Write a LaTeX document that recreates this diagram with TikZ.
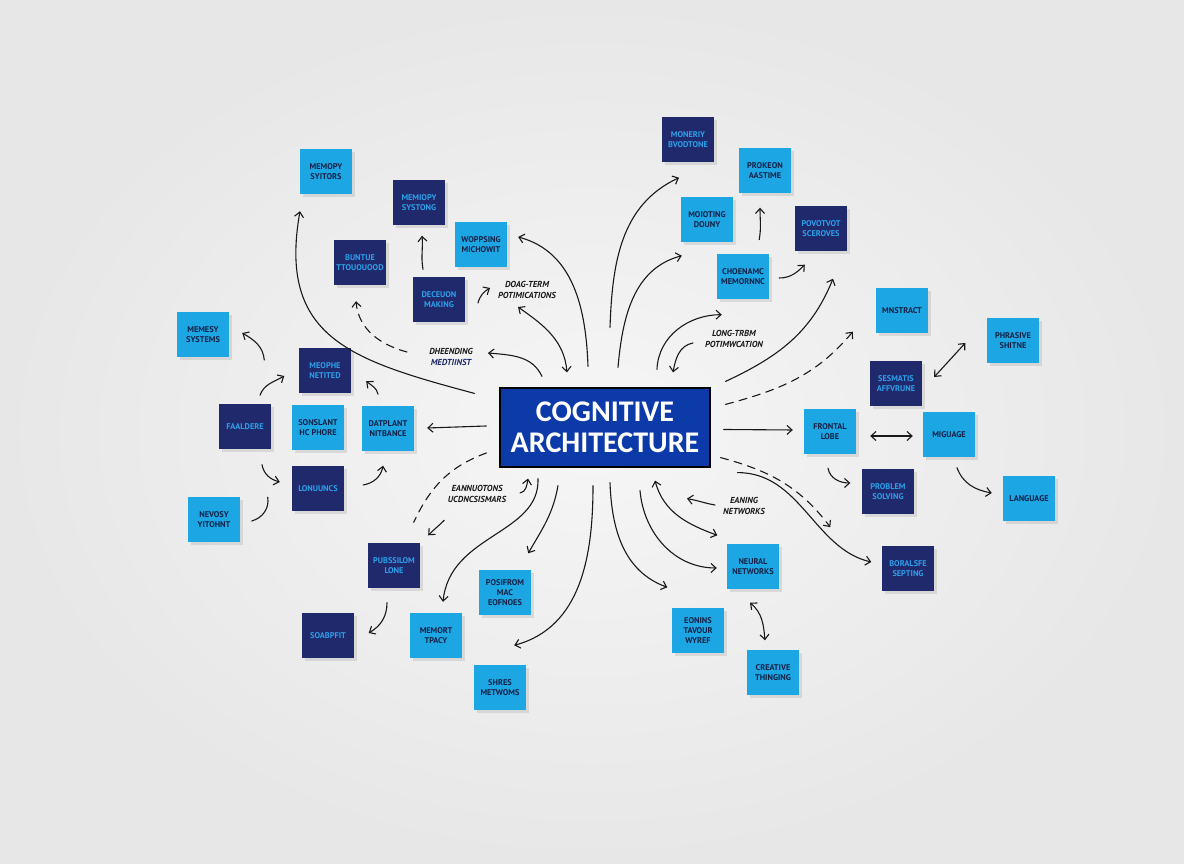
\documentclass[tikz,border=0pt]{standalone}
\usepackage{fontspec}
\setmainfont{Carlito}
\newfontfamily\handfont{PT Sans}
\usetikzlibrary{arrows.meta, positioning, shadows}
\definecolor{wallin}{RGB}{246,246,246}
\definecolor{wallout}{RGB}{231,231,232}
\definecolor{notecyan}{RGB}{28,166,228}
\definecolor{notenavy}{RGB}{31,41,107}
\definecolor{inkdark}{RGB}{20,33,70}
\definecolor{inkcyan}{RGB}{45,160,235}
\definecolor{cogblue}{RGB}{12,58,168}
\definecolor{pen}{RGB}{25,25,25}

\begin{document}
\begin{tikzpicture}[x=1pt, y=1pt,
    >={Straight Barb[length=5pt,width=9pt]},
    note/.style={minimum width=52pt, minimum height=45pt, inner sep=1pt, align=center, font=\handfont\bfseries\fontsize{8.3}{10}\selectfont, drop shadow={shadow xshift=3pt, shadow yshift=-3pt, opacity=0.2}},
    lightnote/.style={note, fill=notecyan, text=inkdark},
    darknote/.style={note, fill=notenavy, text=inkcyan},
    scrawl/.style={align=center, font=\handfont\bfseries\itshape\fontsize{8.7}{10.5}\selectfont, text=pen, inner sep=0pt},
    link/.style={draw=pen, line width=1.1pt, line cap=round},
    dashy/.style={dash pattern=on 8pt off 6pt},
]
    \shade[inner color=wallin, outer color=wallout] (0,0) rectangle (1184,864);
    \useasboundingbox (0,0) rectangle (1184,864);

    \node[draw=black, line width=1.2pt, fill=cogblue, text=white, minimum width=210pt, minimum height=79pt, inner sep=0pt, align=center, font=\bfseries\fontsize{30}{31}\selectfont] (cog) at (605,436.5) {COGNITIVE\\ARCHITECTURE};

    \node[lightnote] (memsyt) at (326,692) {MEMOPY\\SYITORS};
    \node[darknote] (memsys) at (419,661) {MEMIOPY\\SYSTONG};
    \node[lightnote] (worp) at (481,619) {WOPPSING\\MICHOWIT};
    \node[darknote] (buntue) at (360,601) {BUNTUE\\TTOUOUOOD};
    \node[darknote] (decision) at (439,564) {DECEUON\\MAKING};
    \node[darknote] (moneriy) at (688,724) {MONERIY\\BVODTONE};
    \node[lightnote] (prokeon) at (765,693) {PROKEON\\AASTIME};
    \node[lightnote] (moioting) at (707,644) {MOIOTING\\DOUNY};
    \node[darknote] (povot) at (821,635) {POVOTVOT\\SCEROVES};
    \node[lightnote] (choenamc) at (743,587) {CHOENAMC\\MEMORNNC};
    \node[lightnote] (mnstract) at (902,553) {MNSTRACT};
    \node[lightnote] (phrasive) at (1013,523) {PHRASIVE\\SHITNE};
    \node[darknote] (semantis) at (896,480) {SESMATIS\\AFFVRUNE};
    \node[lightnote] (frontal) at (830,432) {FRONTAL\\LOBE};
    \node[lightnote] (miguage) at (949,429) {MIGUAGE};
    \node[darknote] (problem) at (888,372) {PROBLEM\\SOLVING};
    \node[lightnote] (language) at (1029,365) {LANGUAGE};
    \node[darknote] (boralsfe) at (908,295) {BORALSFE\\SEPTING};
    \node[lightnote] (neural) at (753,297) {NEURAL\\NETWORKS};
    \node[lightnote] (eonins) at (698,233) {EONINS\\TAVOUR\\WYREF};
    \node[lightnote] (creative) at (773,191) {CREATIVE\\THINGING};
    \node[lightnote] (posifrom) at (505,271) {POSIFROM\\MAC\\EOFNOES};
    \node[lightnote] (shres) at (500,176) {SHRES\\METWOMS};
    \node[lightnote] (memort) at (436,228) {MEMORT\\TPACY};
    \node[darknote] (pubssilom) at (394,298) {PUBSSILOM\\LONE};
    \node[darknote] (soabpfit) at (328,228) {SOABPFIT};
    \node[lightnote] (memsy) at (203,529) {MEMESY\\SYSTEMS};
    \node[darknote] (meophe) at (325,493) {MEOPHE\\NETITED};
    \node[darknote] (faaldere) at (245,437) {FAALDERE};
    \node[lightnote] (sonslant) at (318,436) {SONSLANT\\HC PHORE};
    \node[lightnote] (datplant) at (388,435) {DATPLANT\\NITBANCE};
    \node[darknote] (lonuuncs) at (318,375) {LONUUNCS};
    \node[lightnote] (nevosy) at (214,344) {NEVOSY\\YITOHNT};

    \node[scrawl] (lbldoag) at (527,574) {DOAG-TERM\\POTIMICATIONS};
    \node[scrawl] (lbldheek) at (451,507) {DHEENDING\\\textcolor{notenavy}{MEDTIINST}};
    \node[scrawl] (lbllong) at (734,525) {LONG-TRBM\\POTIMWCATION};
    \node[scrawl] (lblean) at (477,370) {EANNUOTONS\\UCDNCSISMARS};
    \node[scrawl] (lbleaning) at (744,358) {EANING\\NETWORKS};

    % upper left
    \draw[link,->] ([xshift=-25pt,yshift=-6pt]cog.north west) to[out=165,in=-100,looseness=1.3] ([xshift=-26pt,yshift=-16.5pt]memsyt.south);
    \draw[link,dashy,->] ([xshift=-44pt,yshift=5pt]lbldheek.center) to[out=165,in=-85] ([xshift=-4pt,yshift=-15.5pt]buntue.south);
    \draw[link,->] ([xshift=-63pt,yshift=11pt]cog.north) to[out=115,in=-5] ([xshift=37pt,yshift=4pt]lbldheek.center);
    \draw[link,<->] ([xshift=-38pt,yshift=15pt]cog.north) to[out=95,in=-35] ([xshift=-9pt,yshift=-17pt]lbldoag.center);
    \draw[link,->] ([xshift=-49pt,yshift=-13pt]lbldoag.center) to[out=75,in=-150] ([xshift=-37pt,yshift=2pt]lbldoag.center);
    \draw[link,->] ([xshift=-17pt,yshift=21pt]cog.north) to[out=92,in=-15] ([xshift=11pt,yshift=8pt]worp.east);
    \draw[link,->] ([xshift=-16pt,yshift=8pt]decision.north) to[out=100,in=-85] ([xshift=3pt,yshift=-10pt]memsys.south);

    % upper right
    \draw[link,->] ([xshift=5pt,yshift=60pt]cog.north) to[out=88,in=-155] ([xshift=-9pt,yshift=-15pt]moneriy.south);
    \draw[link,->] ([xshift=13pt,yshift=20pt]cog.north) to[out=85,in=-165] ([xshift=1pt,yshift=-13pt]moioting.south west);
    \draw[link,->] ([xshift=52pt,yshift=18pt]cog.north) to[out=88,in=180] ([xshift=5pt,yshift=-15pt]choenamc.south west);
    \draw[link,->] ([xshift=-41pt,yshift=-4pt]lbllong.center) to[out=190,in=80] ([xshift=68pt,yshift=15pt]cog.north);
    \draw[link,->] ([xshift=26pt,yshift=3pt]moioting.south east) to[out=80,in=-90] ([xshift=-5pt,yshift=-14pt]prokeon.south);
    \draw[link,->] ([xshift=10pt,yshift=-1pt]choenamc.east) to[out=0,in=-135] ([xshift=10pt,yshift=-13pt]povot.south west);
    \draw[link,->] ([xshift=15pt,yshift=6pt]cog.north east) to[out=25,in=-112] ([xshift=12pt,yshift=-27pt]povot.south);
    \draw[link,dashy,->] ([xshift=15pt,yshift=-17pt]cog.north east) to[out=15,in=-130] ([xshift=-23pt,yshift=2pt]mnstract.south west);

    % right
    \draw[link,<->] ([xshift=12pt,yshift=7pt]semantis.east) -- ([xshift=-21.5pt,yshift=-2pt]phrasive.west);
    \draw[link,->] ([xshift=13pt,yshift=-2pt]cog.east) -- ([xshift=-11pt,yshift=2pt]frontal.west);
    \draw[link,<->] ([xshift=14pt,yshift=-4pt]frontal.east) -- ([xshift=-10pt,yshift=-1pt]miguage.west);
    \draw[link,->] ([xshift=-2pt,yshift=-13.5pt]frontal.south) to[out=-80,in=180] ([xshift=-11.5pt,yshift=9pt]problem.west);
    \draw[link,->] ([xshift=8pt,yshift=-10pt]miguage.south) to[out=-70,in=170] ([xshift=-11pt,yshift=6pt]language.west);
    \draw[link,dashy,->] ([xshift=10pt,yshift=10pt]cog.south east) to[out=-15,in=127] ([xshift=-31.5pt,yshift=-12.5pt]problem.south west);
    \draw[link,->] ([xshift=27pt,yshift=-5pt]cog.south east) .. controls +(63,0) and +(-57,13) .. ([xshift=-10.5pt,yshift=7pt]boralsfe.west);

    % lower right
    \draw[link,->] ([xshift=5pt,yshift=-15pt]cog.south) to[out=-88,in=160] ([xshift=-4.5pt,yshift=21pt]eonins.north west);
    \draw[link,->] ([xshift=35pt,yshift=-23pt]cog.south) to[out=-85,in=180] ([xshift=-10pt,yshift=-1pt]neural.west);
    \draw[link,<->] ([xshift=50pt,yshift=-13pt]cog.south) to[out=-75,in=160] ([xshift=-9.5pt,yshift=9pt]neural.north west);
    \draw[link,->] ([xshift=-29pt,yshift=1pt]lbleaning.center) to[out=170,in=-10] ([xshift=82pt,yshift=-31pt]cog.south);
    \draw[link,<->] ([xshift=-3pt,yshift=-13pt]neural.south) to[out=-40,in=95] ([xshift=-8pt,yshift=10pt]creative.north);

    % lower left
    \draw[link,->] ([xshift=43pt,yshift=1pt]lblean.center) to[out=10,in=-100] ([xshift=-77pt,yshift=-11pt]cog.south);
    \draw[link,dashy] ([xshift=-13pt,yshift=-25.5pt]cog.west) to[out=-160,in=65] ([xshift=-6.5pt,yshift=21pt]pubssilom.north east);
    \draw[link,->] ([xshift=24pt,yshift=23pt]pubssilom.north east) to[out=-135,in=45] ([xshift=8pt,yshift=8pt]pubssilom.north east);
    \draw[link,->] ([xshift=-67pt,yshift=-11pt]cog.south) .. controls +(2,-56) and +(7,68) .. ([xshift=7pt,yshift=11.5pt]memort.north);
    \draw[link,->] ([xshift=-47pt,yshift=-18pt]cog.south) to[out=-100,in=60] ([xshift=-3pt,yshift=17pt]posifrom.north east);
    \draw[link,->] ([xshift=-12pt,yshift=-18pt]cog.south) to[out=-90,in=15] ([xshift=-12pt,yshift=20pt]shres.north east);
    \draw[link,->] ([xshift=-7pt,yshift=-14pt]pubssilom.south) to[out=-90,in=30] ([xshift=14.5pt,yshift=3pt]soabpfit.east);

    % left cluster
    \draw[link,->] ([xshift=-13pt,yshift=1.5pt]cog.west) -- ([xshift=13pt,yshift=1pt]datplant.east);
    \draw[link,->] ([xshift=-10pt,yshift=12pt]datplant.north) to[out=100,in=-40] ([xshift=15pt,yshift=12.5pt]meophe.south east);
    \draw[link,->] ([xshift=15pt,yshift=9pt]faaldere.north) to[out=70,in=-150] ([xshift=-14.5pt,yshift=-5pt]meophe.west);
    \draw[link,->] ([xshift=-34.5pt,yshift=11pt]meophe.west) to[out=95,in=-30] ([xshift=13pt,yshift=2pt]memsy.east);
    \draw[link,->] ([xshift=17pt,yshift=-15pt]faaldere.south) to[out=-80,in=165] ([xshift=-12pt,yshift=7pt]lonuuncs.west);
    \draw[link,->] ([xshift=19pt,yshift=4pt]lonuuncs.east) to[out=10,in=-100] ([xshift=-5pt,yshift=-14pt]datplant.south);
    \draw[link] ([xshift=27.5pt]nevosy.north east) to[out=-80,in=15] ([xshift=11.5pt,yshift=-1pt]nevosy.east);
\end{tikzpicture}
\end{document}
